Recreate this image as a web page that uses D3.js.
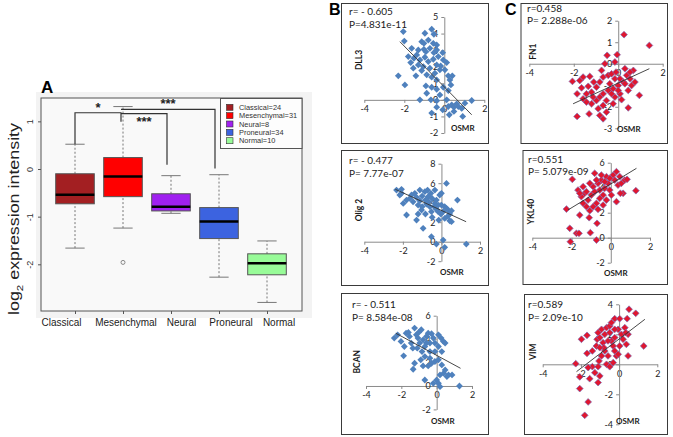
<!DOCTYPE html>
<html>
<head>
<meta charset="utf-8">
<script src="https://cdn.jsdelivr.net/npm/d3@7"></script>
<style>
  body { margin: 0; background: #fff; }
  svg { display: block; }
  .boxplot text { font-family: "Liberation Sans", Arial, sans-serif; fill: #222; }
  .sc text { font-family: Lato, "Open Sans", sans-serif; fill: #1a1a1a; }
</style>
</head>
<body>
<script>
// ---- panel A data ----
var categories = ["Classical", "Mesenchymal", "Neural", "Proneural", "Normal"];
var legendLabels = ["Classical=24", "Mesenchymal=31", "Neural=8", "Proneural=34", "Normal=10"];
var boxColors = ["#a31f22", "#ff0000", "#a020f0", "#3c63e0", "#98fb98"];
var whiskerLow = [-1.66, -1.24, -0.93, -2.27, -2.80];
var quart1 = [-0.73, -0.58, -0.88, -1.46, -2.22];
var medians = [-0.54, -0.16, -0.79, -1.10, -1.98];
var quart3 = [-0.10, 0.24, -0.52, -0.81, -1.78];
var whiskerHigh = [0.52, 1.31, -0.14, -0.12, -1.51];
var outliers = [["Mesenchymal", -1.96]];
var yTicksA = [-2, -1, 0, 1];

// significance brackets (group pairs, bracket height, drop ends, label)
var bracketPairs = [["Classical", "Mesenchymal"], ["Mesenchymal", "Proneural"], ["Mesenchymal", "Neural"]];
var bracketLevels = [1.18, 1.25, 1.16];
var bracketEnds = [[0.52, 0.99], [1.25, 0.01], [1.16, 0.09]];
var bracketLabels = ["*", "***", "***"];

// ---- panels B and C data (OSMR vs gene) ----
var scatterXTicks = [-4, -2, 0, 2];

var dll3Points = [[-2.05,4.12],[-2.0,3.55],[-0.97,4.02],[-0.63,4.26],[-0.52,3.96],[-1.13,3.51],[-1.02,3.41],[-0.8,3.61],
  [-0.55,3.41],[-0.38,3.31],[-1.63,3.11],[-1.3,3.01],[-1.02,3.05],[-0.92,2.91],[-0.72,3.11],[-0.52,2.85],[-0.38,3.01],
  [-0.08,2.85],[-1.8,2.61],[-1.52,2.51],[-1.38,2.71],[-1.22,2.41],[-0.97,2.57],[-0.8,2.31],[-0.55,2.45],[-0.3,2.61],
  [-0.05,2.41],[0.12,2.25],[-1.68,2.25],[-1.3,2.11],[-1.05,2.01],[-0.72,1.91],[-0.38,2.11],[-0.22,1.81],[-2.3,1.45],
  [-1.97,0.9],[-1.42,1.45],[-1.13,1.77],[-0.88,1.51],[-0.63,1.37],[-0.38,1.2],[-0.47,1.61],[0.2,1.45],[0.4,1.45],
  [0.28,1.2],[-0.92,0.84],[-0.63,0.76],[-0.38,0.64],[-0.05,0.76],[0.2,0.56],[0.33,0.9],[-0.22,0.3],[-1.22,0.0],
  [-0.67,0.0],[-0.38,-0.06],[0.12,0.0],[0.2,-0.4],[0.37,-0.3],[0.48,-0.44],[0.62,-0.24],[0.7,-0.4],[0.87,-0.52],
  [1.03,-0.2],[0.48,-0.7],[0.25,-0.9],[-0.38,-0.44],[-0.63,-0.8],[0.92,-1.0],[1.37,-0.04],[-0.08,-0.6],[-0.88,0.4],
  [-1.55,1.91],[0.03,1.81],[-0.18,2.05]];
var dll3Fit = [[-2.22, 3.51], [1.37, -0.9]];
var dll3Ticks = [-2, -1, 0, 1, 2, 3, 4, 5];

var olig2Points = [[-2.33,5.3],[-2.07,5.37],[-2.07,4.96],[-1.98,3.93],[-1.81,2.74],[-1.64,4.44],[-1.55,4.79],[-1.38,4.96],
  [-1.29,2.22],[-1.21,3.76],[-1.12,5.3],[-1.0,3.59],[-0.95,1.37],[-0.86,5.13],[-0.83,4.27],[-0.69,4.62],[-0.6,3.59],
  [-0.52,3.08],[-0.34,5.3],[-0.34,3.93],[-0.26,4.27],[-0.17,3.08],[-0.09,4.79],[0.0,3.76],[0.26,5.98],[0.17,3.59],
  [0.34,3.25],[0.43,2.84],[0.52,3.18],[0.43,2.15],[0.17,2.39],[-0.14,2.22],[-0.52,0.51],[-0.26,-0.24],[0.09,0.17],
  [0.17,-0.58],[0.83,4.27],[1.29,-0.24],[0.52,2.05],[-1.47,4.1],[-1.29,4.55],[-1.12,4.2],[-1.0,4.68],[-0.78,3.86],
  [-0.66,4.1],[-0.48,4.44],[-0.38,3.59],[-0.26,3.32],[-0.03,2.84],[0.09,3.08],[0.26,3.42],[-0.17,3.76],[-0.55,4.96],
  [-0.72,5.3],[-1.03,3.25],[-0.83,2.84],[-1.21,2.84],[-0.48,2.5],[0.34,2.63],[0.0,4.96],[-1.81,4.27],[-2.16,4.79]];
var olig2Fit = [[-2.39, 5.37], [1.28, 2.05]];
var olig2Ticks = [-2, 0, 2, 4, 6, 8];

var bcanPoints = [[-2.4,4.09],[-2.21,4.37],[-2.02,3.8],[-1.83,3.37],[-1.73,4.51],[-1.54,4.23],[-1.44,3.66],[-1.35,3.23],
  [-1.25,4.94],[-1.15,4.37],[-1.06,4.09],[-0.96,3.66],[-0.87,4.8],[-0.77,3.94],[-0.67,3.37],[-0.58,4.23],[-0.48,4.51],
  [-0.38,3.66],[-0.19,4.09],[0.1,4.37],[0.25,4.09],[0.38,3.8],[0.1,3.37],[-0.1,2.94],[-0.38,2.94],[-0.67,2.51],
  [0.29,2.94],[0.48,3.66],[-1.87,2.57],[-1.25,1.94],[-1.33,1.43],[-0.77,1.71],[-0.9,2.23],[-0.48,1.71],[-0.29,1.94],
  [-0.1,2.09],[0.1,2.23],[0.29,1.8],[0.4,1.09],[0.48,1.37],[0.67,0.94],[0.87,0.94],[0.58,0.8],[0.19,0.94],[0.0,0.51],
  [-0.67,0.51],[-0.19,0.23],[0.1,0.23],[0.19,-0.06],[-0.38,2.37],[1.29,0.0],[-1.6,4.57],[-1.02,4.57],[-0.29,4.46],
  [-0.1,3.66],[-1.1,3.23],[-0.83,2.94],[-0.58,3.66]];
var bcanFit = [[-2.31, 4.5], [1.35, 1.51]];
var bcanTicks = [-2, 0, 2, 4, 6];

var fn1Points = [[0.26,1.35],[1.4,0.85],[-0.5,0.39],[-0.05,0.42],[-0.6,0.0],[-0.15,0.08],[0.3,-0.23],[0.68,-0.31],
  [-2.06,-0.82],[-1.28,-0.59],[-1.73,-0.78],[-1.85,-1.4],[-1.65,-1.12],[-1.43,-1.4],[-1.2,-1.32],[-0.98,-1.09],
  [-0.83,-0.85],[-0.68,-0.62],[-0.45,-0.54],[-0.3,-0.47],[-0.15,-0.7],[0.08,-0.7],[0.23,-0.85],[0.38,-0.54],
  [0.53,-0.7],[0.6,-1.01],[0.45,-1.24],[0.3,-0.93],[0.0,-1.01],[-0.23,-1.16],[-0.45,-1.24],[-0.68,-1.4],[-0.83,-1.55],
  [-0.98,-1.71],[-1.2,-1.86],[-1.43,-1.78],[-1.58,-1.63],[-1.13,-1.55],[-0.9,-2.09],[-0.68,-1.94],[-0.53,-1.71],
  [-0.15,-1.55],[0.08,-1.4],[0.15,-1.67],[-0.23,-1.86],[-0.53,-2.25],[-1.85,-2.45],[-1.31,-2.33],[-0.83,-2.4],
  [-0.68,-2.56],[0.45,-2.05],[0.95,-1.47],[0.75,-0.85],[0.53,-0.39],[-1.58,-0.62],[-0.75,-0.31],[-0.38,-0.93],
  [-0.1,-0.39],[-1.1,-0.85],[-1.35,-1.05],[0.0,-1.24],[-0.3,-1.4]];
var fn1Fit = [[-2.03, -1.86], [1.4, -0.23]];
var fn1Ticks = [-3, -2, -1, 0, 1, 2];

var ykl40Points = [[-2.26,2.29],[-2.09,0.75],[-2.06,-0.32],[-1.75,0.35],[-1.62,0.35],[-1.58,1.81],[-1.96,4.67],[-1.1,1.6],
  [-1.04,0.4],[-1.07,2.16],[-0.73,-0.19],[-0.7,1.15],[-0.65,2.27],[-1.41,2.75],[-1.33,3.55],[-1.67,3.81],[-1.5,3.28],
  [-1.24,3.68],[-1.16,3.01],[-0.99,3.41],[-0.9,4.08],[-0.82,5.15],[-0.65,4.35],[-0.56,3.81],[-0.48,4.61],[-0.39,3.41],
  [-0.31,3.95],[-0.22,4.88],[-0.14,4.35],[-0.05,3.81],[0.03,3.41],[0.12,5.01],[0.2,4.61],[0.29,5.28],[0.37,4.21],
  [0.46,4.88],[0.54,4.35],[0.63,3.55],[0.71,4.61],[0.83,4.67],[0.49,3.55],[0.29,2.88],[-0.56,3.15],[-0.73,2.75],
  [-0.9,2.48],[-1.24,2.48],[-0.39,2.61],[-0.22,3.01],[1.28,3.76],[-1.41,4.08],[-1.07,4.35],[-0.73,4.61],[-0.05,4.75],
  [-0.48,5.01],[-1.58,3.55],[-0.82,3.68],[-0.31,4.48]];
var ykl40Fit = [[-2.18, 2.22], [1.31, 5.55]];
var ykl40Ticks = [-2, 0, 2, 4, 6];

var vimPoints = [[0.52,3.67],[0.87,3.4],[-0.23,3.04],[0.03,3.04],[0.42,3.04],[-1.97,1.67],[-1.68,1.93],[-2.27,0.04],
  [-2.06,-0.84],[-2.06,-1.62],[-1.62,-2.51],[-1.8,-3.4],[-1.54,-0.96],[-1.4,-0.16],[-1.62,-0.22],[-1.1,-0.16],
  [-1.1,-1.22],[-1.01,-0.78],[-1.27,-0.56],[-1.68,0.73],[-1.4,0.89],[-1.15,1.67],[-1.19,1.22],[-1.1,2.11],[-1.01,1.78],
  [-0.92,2.33],[-0.84,1.44],[-0.75,2.0],[-0.66,2.44],[-0.49,2.11],[-0.4,1.56],[-0.31,1.22],[-0.23,0.89],[-0.14,0.56],
  [-0.58,0.56],[-0.75,0.89],[-0.92,0.56],[-1.05,0.22],[-0.66,0.0],[-0.49,-0.16],[-0.31,0.11],[-0.23,1.78],[-0.05,2.33],
  [0.12,2.0],[0.21,1.67],[0.3,2.44],[0.38,1.33],[0.47,2.0],[-0.23,2.33],[0.03,1.22],[0.47,0.56],[-0.05,0.67],[1.29,1.22],
  [-0.8,1.11],[-0.49,2.56],[0.35,2.11],[-0.58,1.56],[-1.01,1.11],[-0.4,2.78]];
var vimFit = [[-2.23, -0.49], [1.35, 3.0]];
var vimTicks = [-4, -2, 0, 2, 4];

// ---- drawing ----
var width = 673, height = 437;
var svg = d3.select("body").append("svg")
  .attr("width", width)
  .attr("height", height);

function drawBoxplot() {
  var g = svg.append("g").attr("class", "boxplot");
  var left = 41, right = 302, top = 98, bottom = 311;

  var x = d3.scalePoint().domain(categories).range([75, 267]);
  var y = d3.scaleLinear().domain([-2.98, 1.49]).range([bottom, top]);
  var boxW = 38.6;
  // the category names sit a little off their ticks in the figure
  var labelShift = [-14, 2.5, 10, 11.5, 11.5];

  g.append("rect")
    .attr("x", 36).attr("y", 92).attr("width", 276).attr("height", 226)
    .attr("fill", "#f3f3f3");
  g.append("rect")
    .attr("x", left).attr("y", top).attr("width", right - left).attr("height", bottom - top)
    .attr("fill", "#f9f9f9").attr("stroke", "#555").attr("stroke-width", 1);

  // whiskers
  categories.forEach(function(c, i) {
    var cx = x(c);
    [[whiskerLow[i], quart1[i]], [quart3[i], whiskerHigh[i]]].forEach(function(seg) {
      g.append("line")
        .attr("x1", cx).attr("x2", cx)
        .attr("y1", y(seg[0])).attr("y2", y(seg[1]))
        .attr("stroke", "#777").attr("stroke-width", 1)
        .attr("stroke-dasharray", "2,2");
    });
    [whiskerLow[i], whiskerHigh[i]].forEach(function(v) {
      g.append("line")
        .attr("x1", cx - boxW / 4).attr("x2", cx + boxW / 4)
        .attr("y1", y(v)).attr("y2", y(v))
        .attr("stroke", "#777").attr("stroke-width", 1);
    });
  });

  g.selectAll("rect.box")
    .data(categories)
    .enter().append("rect")
    .attr("class", "box")
    .attr("x", function(d) { return x(d) - boxW / 2; })
    .attr("y", function(d, i) { return y(quart3[i]); })
    .attr("width", boxW)
    .attr("height", function(d, i) { return y(quart1[i]) - y(quart3[i]); })
    .attr("fill", function(d, i) { return boxColors[i]; })
    .attr("stroke", "#555").attr("stroke-width", 1);

  g.selectAll("line.median")
    .data(categories)
    .enter().append("line")
    .attr("class", "median")
    .attr("x1", function(d) { return x(d) - boxW / 2; })
    .attr("x2", function(d) { return x(d) + boxW / 2; })
    .attr("y1", function(d, i) { return y(medians[i]); })
    .attr("y2", function(d, i) { return y(medians[i]); })
    .attr("stroke", "#000").attr("stroke-width", 2.5);

  g.selectAll("circle.out")
    .data(outliers)
    .enter().append("circle")
    .attr("class", "out")
    .attr("cx", function(d) { return x(d[0]); })
    .attr("cy", function(d) { return y(d[1]); })
    .attr("r", 2)
    .attr("fill", "none").attr("stroke", "#888");

  // axes
  var yAxis = g.append("g")
    .attr("transform", "translate(" + left + ",0)")
    .call(d3.axisLeft(y).tickValues(yTicksA).tickSize(3).tickFormat(function(d) { return String(d); }));
  yAxis.select(".domain").remove();
  yAxis.selectAll("line").attr("stroke", "#555");
  yAxis.selectAll("text")
    .attr("transform", "rotate(-90)")
    .attr("x", 0).attr("y", -8).attr("dy", 0)
    .attr("text-anchor", "middle")
    .style("font-size", "9px").style("fill", "#333");

  var xAxis = g.append("g")
    .attr("transform", "translate(0," + bottom + ")")
    .call(d3.axisBottom(x).tickSize(3).tickPadding(5));
  xAxis.select(".domain").remove();
  xAxis.selectAll("line").attr("stroke", "#555");
  xAxis.selectAll("text")
    .attr("x", function(d, i) { return labelShift[i]; })
    .style("font-size", "10px").style("fill", "#222");

  g.append("text")
    .attr("transform", "translate(19,219) rotate(-90)")
    .attr("text-anchor", "middle")
    .style("font-size", "14px")
    .attr("textLength", 192)
    .attr("lengthAdjust", "spacingAndGlyphs")
    .html('log<tspan dy="4" style="font-size:9px">2</tspan><tspan dy="-4"> expression intensity</tspan>');

  // significance brackets
  bracketPairs.forEach(function(p, i) {
    var x1 = x(p[0]) - (i === 0 ? 0 : 2), x2 = x(p[1]) - (i === 0 ? 2 : 4);
    var yl = y(bracketLevels[i]);
    g.append("path")
      .attr("d", "M" + x1 + "," + y(bracketEnds[i][0]) + "V" + yl + "H" + x2 + "V" + y(bracketEnds[i][1]))
      .attr("fill", "none").attr("stroke", "#333").attr("stroke-width", 1.2);
    g.append("text")
      .attr("x", (x1 + x2) / 2)
      .attr("y", i === 2 ? yl + 12 : yl - 1)
      .attr("text-anchor", "middle")
      .style("font-size", "13px").style("font-weight", "bold").style("fill", "#222")
      .text(bracketLabels[i]);
  });

  // legend
  var lg = g.append("g");
  lg.append("rect")
    .attr("x", 220.5).attr("y", 98.5).attr("width", 81.5).attr("height", 50)
    .attr("fill", "#fdfdfd").attr("stroke", "#555");
  legendLabels.forEach(function(t, i) {
    var ly = 107.3 + i * 8.35;
    lg.append("rect")
      .attr("x", 226.5).attr("y", ly - 3).attr("width", 6.5).attr("height", 6)
      .attr("fill", boxColors[i]).attr("stroke", "#333").attr("stroke-width", 0.6);
    lg.append("text")
      .attr("x", 239).attr("y", ly + 2.6)
      .style("font-size", "7.4px").style("fill", "#333")
      .text(t);
  });

  g.append("text")
    .attr("x", 41).attr("y", 93)
    .style("font-size", "17px").style("font-weight", "bold").style("fill", "#000")
    .text("A");
}

var diamond = "M0,-3.4L3.4,0L0,3.4L-3.4,0Z";

function drawScatter(cfg) {
  var g = svg.append("g").attr("class", "sc");
  var b = cfg.box;
  g.append("rect")
    .attr("x", b[0] + 0.5).attr("y", b[1] + 0.5)
    .attr("width", b[2] - b[0]).attr("height", b[3] - b[1])
    .attr("fill", "#fff").attr("stroke", "#3a3a3a").attr("stroke-width", 1);

  var x = d3.scaleLinear().domain([-4, 2]).range(cfg.xr);
  var y = d3.scaleLinear().domain(d3.extent(cfg.ticks)).range(cfg.yr);
  var fmt = function(d) { return String(d); };

  var xa = g.append("g")
    .attr("transform", "translate(0," + y(0) + ")")
    .call(d3.axisBottom(x).tickValues(scatterXTicks).tickSize(3).tickSizeOuter(0).tickPadding(3).tickFormat(fmt));
  var ya = g.append("g")
    .attr("transform", "translate(" + x(0) + ",0)")
    .call(d3.axisLeft(y).tickValues(cfg.ticks).tickSize(3).tickSizeOuter(0).tickPadding(3).tickFormat(fmt));
  [xa, ya].forEach(function(a) {
    a.select(".domain").attr("stroke", "#8a8a8a");
    a.selectAll("line").attr("stroke", "#8a8a8a");
    a.selectAll("text").style("font-size", "9px").style("fill", "#222")
      .style("font-family", "Lato, 'Open Sans', sans-serif");
  });

  g.selectAll("path.pt")
    .data(cfg.points)
    .enter().append("path")
    .attr("class", "pt")
    .attr("d", diamond)
    .attr("transform", function(d) { return "translate(" + x(d[0]) + "," + y(d[1]) + ")"; })
    .attr("fill", cfg.fill)
    .attr("stroke", cfg.stroke)
    .attr("stroke-width", cfg.stroke === "none" ? 0 : 0.7);

  // trendline on top of the markers
  g.append("line")
    .attr("x1", x(cfg.fit[0][0])).attr("y1", y(cfg.fit[0][1]))
    .attr("x2", x(cfg.fit[1][0])).attr("y2", y(cfg.fit[1][1]))
    .attr("stroke", "#333").attr("stroke-width", 0.9);

  g.append("text").attr("x", cfg.stat[0]).attr("y", cfg.stat[1])
    .style("font-size", "10px").text(cfg.rText);
  g.append("text").attr("x", cfg.stat[0]).attr("y", cfg.stat[1] + 12.8)
    .style("font-size", "10px").text(cfg.pText);

  g.append("text")
    .attr("transform", "translate(" + cfg.ylab[0] + "," + cfg.ylab[1] + ") rotate(-90)")
    .attr("text-anchor", "middle")
    .attr("dy", "0.35em")
    .style("font-size", "8.5px").style("font-weight", "bold")
    .text(cfg.gene);
  g.append("text")
    .attr("x", cfg.osmr[0]).attr("y", cfg.osmr[1])
    .style("font-size", "8px").style("font-weight", "bold")
    .text("OSMR");
}

drawBoxplot();

var blue = "#4f81bd", red = "#e0162f", redEdge = "#7d6fb5";
var panels = [
  {gene: "DLL3", points: dll3Points, fit: dll3Fit, ticks: dll3Ticks, rText: "r= - 0.605", pText: "P=4.831e-11",
   box: [341, 3, 488, 143], xr: [364.3, 484.3], yr: [133, 17], stat: [349, 15], ylab: [359, 60], osmr: [451, 131],
   fill: blue, stroke: "none"},
  {gene: "Olig 2", points: olig2Points, fit: olig2Fit, ticks: olig2Ticks, rText: "r= - 0.477", pText: "P= 7.77e-07",
   box: [341, 150, 488, 285], xr: [364.3, 480], yr: [261.2, 163.7], stat: [349, 164], ylab: [359, 210], osmr: [440, 275],
   fill: blue, stroke: "none"},
  {gene: "BCAN", points: bcanPoints, fit: bcanFit, ticks: bcanTicks, rText: "r= - 0.511", pText: "P= 8.584e-08",
   box: [341, 293, 488, 434], xr: [366, 472], yr: [409.4, 315.7], stat: [352, 308], ylab: [356.7, 361.7], osmr: [431, 424],
   fill: blue, stroke: "none"},
  {gene: "FN1", points: fn1Points, fit: fn1Fit, ticks: fn1Ticks, rText: "r=0.458", pText: "P= 2.288e-06",
   box: [520.5, 3, 667, 143], xr: [529.3, 662.7], yr: [128.3, 20.7], stat: [527, 11.5], ylab: [533.3, 51.7], osmr: [617, 132],
   fill: red, stroke: redEdge},
  {gene: "YKL40", points: ykl40Points, fit: ykl40Fit, ticks: ykl40Ticks, rText: "r=0.551", pText: "P= 5.079e-09",
   box: [522.5, 150, 667, 284], xr: [532.3, 650], yr: [262.7, 162.7], stat: [528, 162.5], ylab: [530.7, 211.7], osmr: [604, 276],
   fill: red, stroke: redEdge},
  {gene: "VIM", points: vimPoints, fit: vimFit, ticks: vimTicks, rText: "r=0.589", pText: "P= 2.09e-10",
   box: [524, 294, 667, 434], xr: [542.7, 657.3], yr: [424.3, 304.3], stat: [528, 308], ylab: [533.3, 351.7], osmr: [616, 424],
   fill: red, stroke: redEdge}
];
panels.forEach(drawScatter);

svg.append("text").attr("x", 329).attr("y", 15)
  .style("font-family", "'Liberation Sans', Arial, sans-serif")
  .style("font-size", "16px").style("font-weight", "bold").text("B");
svg.append("text").attr("x", 505).attr("y", 15)
  .style("font-family", "'Liberation Sans', Arial, sans-serif")
  .style("font-size", "16px").style("font-weight", "bold").text("C");
</script>
</body>
</html>
